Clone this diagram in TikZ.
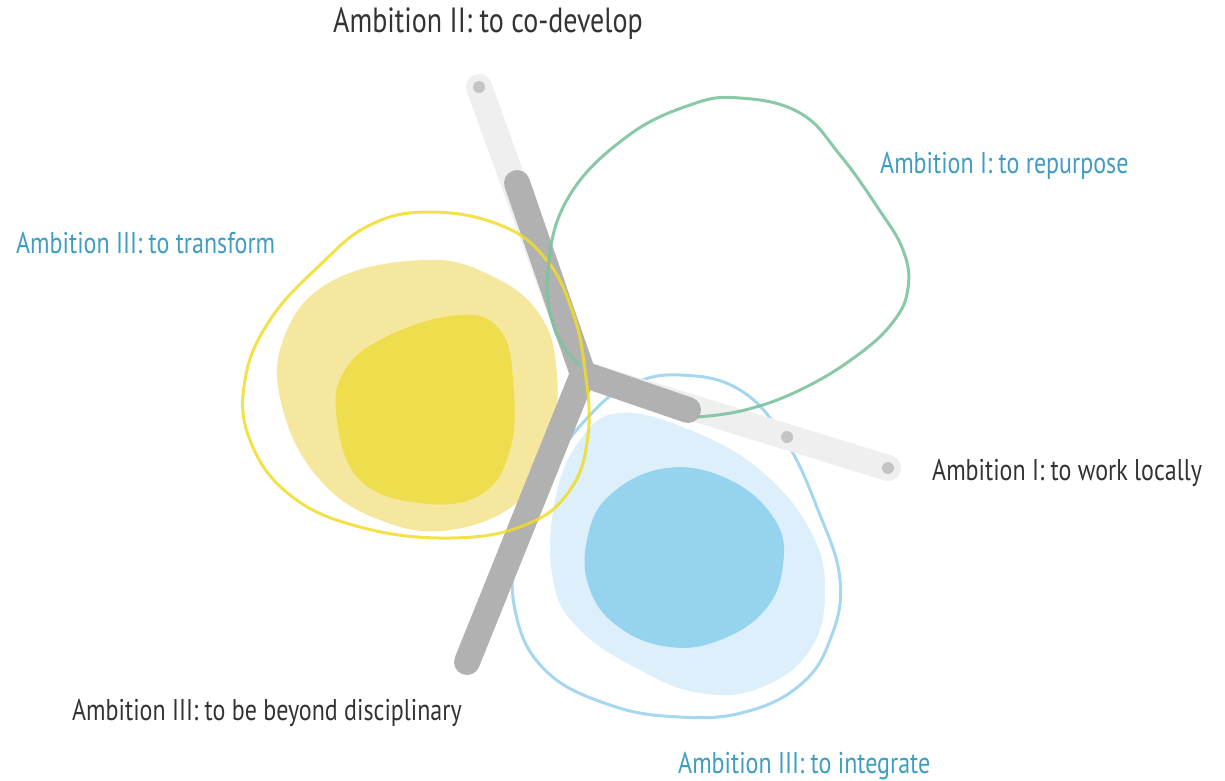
\documentclass[tikz,border=0pt]{standalone}
\usepackage{fontspec}
\setmainfont{PT Sans}[FakeStretch=0.8]
\definecolor{lgray}{HTML}{EFEFEF}
\definecolor{dgray}{HTML}{B1B1B1}
\definecolor{dotgray}{HTML}{C4C4C4}
\definecolor{yline}{HTML}{F0DC28}
\definecolor{yfill}{HTML}{F5E79E}
\definecolor{ydark}{HTML}{EEDD4C}
\definecolor{gline}{HTML}{7CC39F}
\definecolor{bline}{HTML}{A6D7F0}
\definecolor{bfill}{HTML}{DDEFFA}
\definecolor{bdark}{HTML}{96D3EE}
\definecolor{tblue}{HTML}{3E9DC2}
\definecolor{tdark}{HTML}{333333}
\tikzset{
  lbl/.style={anchor=base west,inner sep=0pt,font=\fontsize{30}{34}\selectfont},
  blbl/.style={lbl,text=tblue},
  dlbl/.style={lbl,text=tdark},
  band/.style={line width=26pt,line cap=round,line join=round},
  outl/.style={line width=3pt}
}
\begin{document}
\begin{tikzpicture}[x=1pt,y=-1pt]
\useasboundingbox (0,0) rectangle (1225,780);
% fills
\fill[yfill] plot[smooth cycle,tension=0.7] coordinates {(423,260) (490,275) (540,315) (557,375) (550,440) (520,500) (450,530) (380,520) (320,480) (283,410) (283,340) (330,282)};
\fill[ydark] plot[smooth cycle,tension=0.7] coordinates {(460,315) (500,330) (513,380) (510,450) (480,495) (420,503) (360,480) (337,420) (345,370) (390,335)};
\fill[bfill] plot[smooth cycle,tension=0.7] coordinates {(620,413) (690,430) (760,470) (810,530) (825,590) (810,650) (760,688) (700,693) (640,670) (580,630) (553,580) (555,500) (580,440)};
\fill[bdark] plot[smooth cycle,tension=0.7] coordinates {(667,468) (730,480) (775,520) (783,565) (765,610) (720,640) (670,647) (620,628) (590,590) (587,540) (610,495)};
% blue outline
\draw[outl,bline] plot[smooth cycle,tension=0.7] coordinates {(680,375) (740,390) (785,440) (818,510) (840,580) (830,640) (800,685) (745,712) (680,717) (610,705) (545,670) (515,610) (518,540) (545,475) (590,415) (630,385)};
% axes
\coordinate (J) at (583,374);
\coordinate (T) at (479,87);
\coordinate (R) at (888,468);
\coordinate (Tdark) at (517,183);
\coordinate (Rdark) at (688,410);
\coordinate (Ldark) at (467,662);
\coordinate (Rmid) at (787,437);
\draw[band,lgray] (T) -- (J) -- (R);
\draw[band,dgray] (Tdark) -- (J) -- (Rdark);
\draw[band,dgray] (J) -- (Ldark);
\fill[dotgray] (T) circle (6);
\fill[dotgray] (R) circle (6);
\fill[dotgray] (Rmid) circle (6);
% yellow outline
\draw[outl,yline,opacity=0.85] plot[smooth cycle,tension=0.7] coordinates {(430,212) (500,225) (545,258) (572,310) (585,370) (588,435) (570,490) (525,525) (450,538) (360,527) (290,495) (250,440) (245,380) (270,320) (320,265) (370,225)};
% green outline
\draw[outl,gline,opacity=0.9] plot[smooth,tension=0.7] coordinates {(580,366) (555,330) (548,270) (568,198) (625,138) (690,105) (740,98) (800,113) (840,155) (878,208) (903,250) (908,288) (893,322) (855,357) (800,390) (745,410) (697,417)};
% labels
\node[dlbl,font=\fontsize{35}{40}\selectfont] (a2) at (333,32) {Ambition II: to co-develop};
\node[blbl] (a1r) at (880,173) {Ambition I: to repurpose};
\node[blbl] (a3t) at (16,253) {Ambition III: to transform};
\node[dlbl] (a1w) at (932,480) {Ambition I: to work locally};
\node[dlbl] (a3b) at (72,720) {Ambition III: to be beyond disciplinary};
\node[blbl] (a3i) at (678,773) {Ambition III: to integrate};
\end{tikzpicture}
\end{document}
